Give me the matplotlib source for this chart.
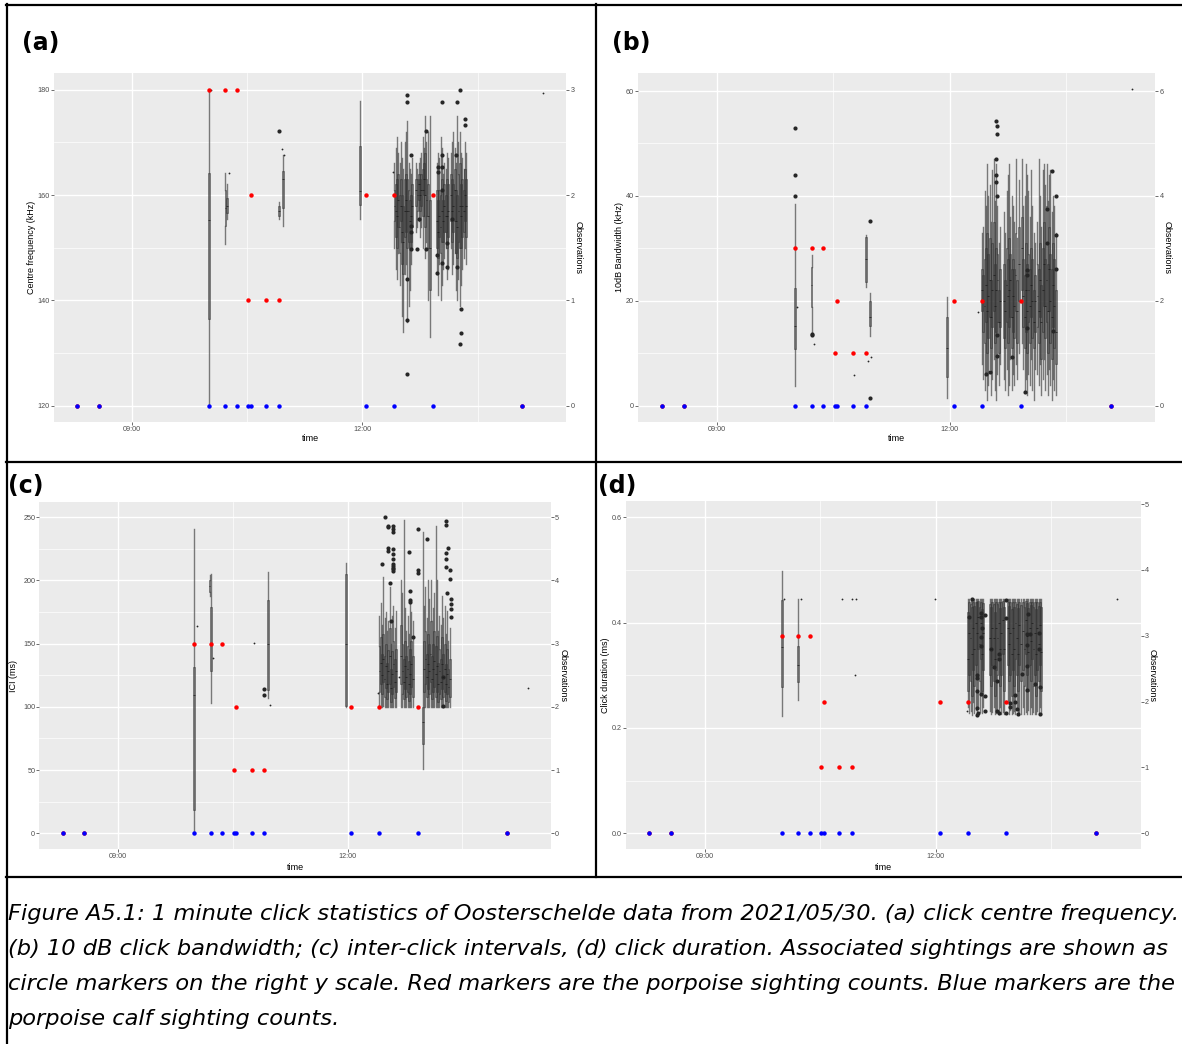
# Click statistics of Oosterschelde data, 2021/05/30 - four panel figure
import numpy as np
import matplotlib.pyplot as plt
from matplotlib.lines import Line2D

# ---------------- data ----------------
# sightings (same for every panel, drawn on the right y scale)
sight_t = ["08:17", "08:34", "10:00", "10:13", "10:22", "10:31", "10:33", "10:45", "10:55", "12:03", "12:25", "12:55", "14:05"]
porpoise_n = [0, 0, 3, 3, 3, 1, 2, 1, 1, 2, 2, 2, 0]
calf_n = [0, 0, 0, 0, 0, 0, 0, 0, 0, 0, 0, 0, 0]

# (a) centre frequency (kHz), one box per minute
a_t = ["10:00", "10:13", "10:14", "10:55", "10:58", "11:58",
       "12:25", "12:26", "12:27", "12:28", "12:29", "12:30", "12:31", "12:32", "12:33", "12:34", "12:35", "12:36", "12:37", "12:38", "12:39",
       "12:42", "12:43", "12:44", "12:45", "12:46", "12:47", "12:48", "12:49", "12:50", "12:51", "12:53",
       "12:58", "12:59", "13:00", "13:01", "13:02", "13:03", "13:04", "13:05", "13:06", "13:07",
       "13:09", "13:10", "13:11", "13:12", "13:13", "13:14", "13:15", "13:16", "13:17", "13:18", "13:19", "13:20", "13:21"]
a_lo = [120, 150.8, 155.5, 155.4, 154.2, 155.4,
        150, 146, 144, 149, 143, 151, 137, 134, 145, 147, 136, 139, 142, 147, 150,
        153, 154, 155, 152, 154, 150, 156, 148, 151, 140, 133,
        145, 141, 147, 140, 143, 146, 148, 150, 144, 146,
        150, 145, 147, 149, 142, 140, 144, 139, 143, 146, 148, 150, 147]
a_q1 = [136.4, 154.2, 156.5, 156, 157.5, 158.1,
        155, 152, 150, 154, 149, 155, 147, 145, 152, 153, 150, 151, 150, 151, 154,
        158, 157, 159, 157, 158, 156, 160, 154, 156, 150, 142,
        150, 148, 152, 149, 151, 151, 153, 153, 150, 152,
        155, 151, 153, 155, 149, 148, 151, 150, 150, 152, 153, 155, 152]
a_med = [155.2, 157.5, 158, 157, 163, 160.8,
         158, 157, 156, 159, 154, 158, 153, 151, 157, 159, 157, 157, 155, 156, 158,
         161, 160, 162, 160, 161, 161, 163, 160, 159, 156, 150,
         155, 153, 156, 154, 157, 155, 158, 156, 156, 157,
         160, 157, 158, 161, 155, 154, 157, 158, 156, 158, 157, 160, 158]
a_q3 = [164.2, 160.9, 159.5, 158, 164.5, 169.3,
        161, 162, 163, 164, 160, 163, 160, 158, 163, 164, 163, 161, 159, 160, 162,
        163, 163, 164, 163, 164, 165, 166, 168, 163, 162, 159,
        161, 159, 161, 160, 163, 159, 162, 160, 163, 162,
        164, 163, 162, 165, 161, 160, 164, 166, 162, 163, 161, 165, 163]
a_hi = [180, 164.2, 162, 158.7, 167.5, 177.8,
        166, 169, 171, 168, 166, 170, 167, 165, 170, 172, 174, 166, 165, 164, 167,
        166, 165, 166, 167, 168, 171, 169, 175, 170, 172, 175,
        166, 168, 167, 171, 169, 164, 166, 165, 168, 167,
        168, 170, 172, 169, 166, 175, 170, 172, 168, 167, 165, 170, 168]
a_out_t = ["10:55", "12:35", "12:35", "12:35", "12:35", "12:35", "12:38", "12:38", "12:38", "12:38",
           "12:43", "12:44", "12:50", "12:50", "12:58", "12:58", "12:59", "12:59",
           "13:02", "13:02", "13:02", "13:02", "13:02", "13:06", "13:06", "13:10", "13:13",
           "13:14", "13:14", "13:16", "13:16", "13:17", "13:17", "13:20", "13:20"]
a_out_v = [172.2, 178.9, 177.7, 144, 136.3, 126, 167.6, 154.2, 153, 149.7,
           149.7, 155.4, 172.2, 149.7, 148.6, 145.3, 165.3, 164.3,
           177.7, 167.6, 165.3, 160.9, 147.1, 150.9, 146.3, 155.4, 167.6,
           177.7, 146.3, 180, 131.7, 138.4, 133.9, 174.4, 173.3]
a_dot_t = ["10:02", "10:16", "10:57", "10:59", "12:24", "14:21"]
a_dot_v = [180, 164.2, 168.8, 167.5, 164.3, 179.3]

# (b) 10 dB bandwidth (kHz)
b_t = ["10:00", "10:13", "10:55", "10:58", "11:58",
       "12:25", "12:26", "12:27", "12:28", "12:29", "12:30", "12:31", "12:32", "12:33", "12:34", "12:35", "12:36", "12:37", "12:38", "12:39",
       "12:42", "12:43", "12:44", "12:45", "12:46", "12:47", "12:48", "12:49", "12:50", "12:51", "12:52",
       "12:54",
       "12:56", "12:57", "12:58", "12:59", "13:00", "13:01", "13:02", "13:03", "13:04", "13:05", "13:06",
       "13:08", "13:09", "13:10", "13:11", "13:12", "13:13", "13:14", "13:15", "13:16", "13:17", "13:18", "13:19", "13:20", "13:21", "13:22"]
b_lo = [3.8, 13.8, 22.7, 13.3, 1.4,
        8, 5, 3, 6, 1, 4, 7, 2, 5, 9, 3, 1, 6, 4, 8,
        5, 3, 7, 2, 4, 9, 3, 6, 4, 8, 5,
        10,
        12, 7, 3, 5, 2, 6, 4, 9, 3, 1, 7,
        6, 4, 8, 2, 5, 9, 3, 6, 2, 7, 4, 1, 5, 3, 2]
b_q1 = [10.9, 18.9, 23.6, 15.2, 5.5,
        18, 14, 12, 16, 10, 13, 17, 11, 15, 18, 12, 14, 16, 10, 15,
        13, 11, 16, 12, 15, 17, 11, 14, 13, 18, 12,
        20,
        22, 15, 11, 14, 10, 16, 12, 17, 13, 11, 14,
        15, 12, 17, 9, 14, 19, 13, 16, 10, 18, 12, 9, 15, 11, 8]
b_med = [15.2, 23, 28, 17, 11,
         22, 20, 19, 23, 18, 21, 24, 17, 22, 25, 19, 22, 24, 16, 20,
         20, 18, 23, 21, 22, 24, 17, 21, 19, 25, 18,
         27,
         30, 21, 17, 22, 18, 22, 19, 23, 20, 16, 20,
         21, 18, 24, 16, 22, 27, 19, 24, 18, 26, 20, 17, 23, 19, 14]
b_q3 = [22.4, 26.5, 32.2, 20, 16.9,
        26, 25, 28, 30, 33, 29, 32, 24, 31, 35, 27, 30, 29, 22, 26,
        27, 24, 30, 28, 32, 29, 26, 28, 26, 33, 24,
        34,
        36, 28, 25, 31, 27, 29, 26, 30, 28, 22, 25,
        27, 26, 31, 23, 30, 35, 28, 38, 27, 34, 29, 26, 31, 28, 22]
b_hi = [38.5, 28.7, 32.5, 21.5, 20.8,
        33, 34, 41, 38, 46, 40, 42, 35, 45, 47, 39, 46, 38, 31, 34,
        37, 33, 41, 44, 46, 36, 40, 38, 35, 47, 32,
        43,
        47, 38, 40, 46, 44, 41, 36, 45, 38, 33, 31,
        35, 47, 40, 34, 45, 46, 42, 46, 39, 44, 45, 37, 40, 38, 33]
b_out_t = ["10:00", "10:00", "10:00", "10:13", "10:13", "10:58", "10:58",
           "12:28", "12:31", "12:36", "12:36", "12:36", "12:36", "12:37", "12:37", "12:37", "12:37", "12:37",
           "12:48", "12:58", "13:00", "13:00", "13:00", "13:15", "13:15", "13:19", "13:20", "13:22", "13:22", "13:22"]
b_out_v = [52.9, 44, 40, 13.7, 13.4, 35.3, 1.5,
           6.0, 6.5, 54.3, 47.1, 43.9, 42.7, 53.4, 51.8, 39.9, 13.5, 9.5,
           9.2, 2.6, 25.9, 25, 14.9, 37.6, 31.1, 44.8, 14.3, 40, 32.6, 26]
b_dot_t = ["10:02", "10:15", "10:46", "10:57", "10:59", "12:22", "14:21"]
b_dot_v = [18.9, 11.7, 5.9, 8.6, 9.3, 17.8, 60.3]

# (c) inter-click interval (ms)
c_t = ["10:00", "10:12", "10:13", "10:58", "11:59",
       "12:25", "12:26", "12:27", "12:28", "12:29", "12:30", "12:31", "12:32", "12:33", "12:34", "12:35", "12:36", "12:37", "12:38",
       "12:42", "12:43", "12:44", "12:45", "12:46", "12:47", "12:48", "12:49", "12:50", "12:51",
       "12:59",
       "13:00", "13:01", "13:02", "13:03", "13:04", "13:05", "13:06", "13:07", "13:08", "13:09", "13:10",
       "13:11", "13:12", "13:13", "13:14", "13:15", "13:16", "13:17", "13:18", "13:19", "13:20"]
c_lo = [1, 188, 103, 106.7, 100,
        100, 100, 100, 101, 100, 100, 100, 100, 100, 100, 100, 100, 100, 100,
        100, 100, 100, 100, 100, 100, 100, 100, 100, 100,
        51,
        100, 100, 100, 100, 100, 100, 100, 100, 100, 100, 100,
        100, 100, 100, 100, 100, 100, 100, 100, 100, 100]
c_q1 = [18.5, 191, 128.4, 113.4, 101,
        112, 118, 110, 120, 108, 115, 106, 112, 118, 104, 110, 116, 107, 112,
        118, 110, 106, 114, 108, 112, 105, 110, 116, 108,
        71,
        112, 118, 108, 114, 110, 120, 106, 112, 116, 108, 112,
        104, 110, 106, 114, 108, 112, 105, 110, 104, 108]
c_med = [109, 196, 150, 150, 150,
         128, 135, 125, 138, 122, 132, 118, 128, 140, 115, 126, 134, 120, 128,
         140, 128, 120, 132, 124, 130, 118, 126, 134, 122,
         88,
         130, 138, 124, 134, 128, 142, 122, 130, 136, 126, 132,
         118, 128, 120, 134, 124, 130, 118, 126, 116, 122]
c_q3 = [131.8, 200, 179, 184.8, 205,
        148, 155, 142, 158, 140, 150, 135, 145, 162, 130, 144, 152, 138, 146,
        165, 150, 138, 152, 140, 148, 136, 146, 152, 140,
        100,
        152, 160, 142, 158, 150, 168, 140, 150, 160, 148, 156,
        135, 146, 138, 155, 142, 150, 134, 146, 130, 138]
c_hi = [240.6, 204, 205, 206.7, 213.6,
        172, 182, 165, 203, 170, 175, 160, 168, 195, 150, 172, 180, 162, 176,
        200, 190, 248, 178, 160, 172, 158, 185, 175, 168,
        238,
        180, 195, 170, 200, 185, 200, 168, 178, 190, 243, 200,
        160, 172, 165, 188, 170, 180, 158, 176, 152, 162]
c_out_t = ["10:55", "10:55", "12:27", "12:29", "12:32", "12:32", "12:32", "12:32", "12:33", "12:34",
           "12:36", "12:36", "12:36", "12:36", "12:36", "12:36", "12:36", "12:36", "12:36", "12:36", "12:36",
           "12:48", "12:49", "12:49", "12:49", "12:51", "12:55", "12:55", "12:55", "13:02", "13:15", "13:15",
           "13:17", "13:17", "13:17", "13:17", "13:17", "13:18", "13:19", "13:20", "13:20",
           "13:21", "13:21", "13:21", "13:21"]
c_out_v = [114, 109.5, 213, 250, 243.2, 242, 225.3, 223.5, 197.7, 167.9,
           243.2, 241, 238, 224.5, 220.6, 217, 212.8, 211.8, 208.8, 207.7, 209.7,
           222.7, 191.9, 184.3, 183.3, 155.5, 241, 208, 206, 233.1, 124, 101,
           247, 244, 222, 217, 211, 189.8, 226, 208, 200.9,
           185.1, 181, 177.6, 170.7]
c_dot_t = ["10:02", "10:15", "10:47", "10:59", "12:24", "12:40", "14:21"]
c_dot_v = [164, 139, 150.9, 101.5, 110.7, 123.4, 114.7]

# (d) click duration (ms)
d_t = ["10:00", "10:13",
       "12:25", "12:26", "12:27", "12:28", "12:29", "12:30", "12:31", "12:32", "12:33", "12:34", "12:35", "12:36", "12:37",
       "12:42", "12:43", "12:44", "12:45", "12:46", "12:47", "12:48", "12:49", "12:50", "12:51", "12:52", "12:53",
       "12:56", "12:57", "12:58", "12:59", "13:00", "13:01", "13:02", "13:03", "13:04", "13:05", "13:06",
       "13:08", "13:09", "13:10", "13:11", "13:12", "13:13", "13:14", "13:15", "13:16", "13:17", "13:18", "13:19", "13:20", "13:21", "13:22"]
d_lo = [0.222, 0.253,
        0.240, 0.228, 0.232, 0.225, 0.250, 0.228, 0.235, 0.226, 0.240, 0.230, 0.262, 0.228, 0.240,
        0.232, 0.226, 0.230, 0.240, 0.226, 0.228, 0.235, 0.226, 0.240, 0.226, 0.230, 0.226,
        0.250, 0.226, 0.235, 0.226, 0.228, 0.232, 0.226, 0.240, 0.226, 0.230, 0.226,
        0.240, 0.226, 0.230, 0.226, 0.235, 0.226, 0.240, 0.226, 0.230, 0.226, 0.226, 0.232, 0.226, 0.240, 0.226]
d_q1 = [0.278, 0.288,
        0.270, 0.300, 0.290, 0.260, 0.310, 0.280, 0.320, 0.300, 0.350, 0.290, 0.330, 0.270, 0.310,
        0.300, 0.280, 0.320, 0.290, 0.260, 0.310, 0.300, 0.330, 0.280, 0.300, 0.340, 0.270,
        0.320, 0.290, 0.300, 0.260, 0.310, 0.280, 0.330, 0.300, 0.270, 0.320, 0.290,
        0.310, 0.280, 0.340, 0.300, 0.270, 0.320, 0.290, 0.330, 0.280, 0.300, 0.260, 0.310, 0.290, 0.320, 0.270]
d_med = [0.354, 0.320,
         0.330, 0.380, 0.370, 0.340, 0.390, 0.350, 0.400, 0.380, 0.410, 0.360, 0.400, 0.340, 0.380,
         0.370, 0.350, 0.390, 0.370, 0.330, 0.390, 0.370, 0.400, 0.350, 0.380, 0.405, 0.350,
         0.390, 0.360, 0.380, 0.340, 0.390, 0.350, 0.400, 0.370, 0.340, 0.395, 0.360,
         0.385, 0.350, 0.405, 0.375, 0.345, 0.390, 0.365, 0.400, 0.350, 0.380, 0.340, 0.390, 0.360, 0.395, 0.345]
d_q3 = [0.443, 0.356,
        0.420, 0.440, 0.436, 0.430, 0.440, 0.432, 0.440, 0.440, 0.442, 0.430, 0.440, 0.425, 0.438,
        0.436, 0.430, 0.440, 0.435, 0.420, 0.440, 0.436, 0.440, 0.428, 0.440, 0.442, 0.430,
        0.440, 0.432, 0.440, 0.425, 0.440, 0.430, 0.440, 0.436, 0.428, 0.440, 0.434,
        0.440, 0.430, 0.442, 0.438, 0.428, 0.440, 0.434, 0.440, 0.430, 0.440, 0.425, 0.440, 0.432, 0.440, 0.430]
d_hi = [0.498, 0.444,
        0.444, 0.444, 0.444, 0.444, 0.444, 0.444, 0.444, 0.444, 0.444, 0.444, 0.444, 0.444, 0.444,
        0.444, 0.444, 0.444, 0.444, 0.444, 0.444, 0.444, 0.444, 0.444, 0.444, 0.444, 0.444,
        0.444, 0.444, 0.444, 0.444, 0.444, 0.444, 0.444, 0.444, 0.444, 0.444, 0.444,
        0.444, 0.444, 0.444, 0.444, 0.444, 0.444, 0.444, 0.444, 0.444, 0.444, 0.444, 0.444, 0.444, 0.444, 0.444]
d_out_t = ["12:26", "12:28", "12:32", "12:32", "12:32", "12:32", "12:32", "12:33",
           "12:35", "12:35", "12:35", "12:35", "12:35", "12:36", "12:38", "12:38", "12:38",
           "12:43", "12:45", "12:48", "12:48", "12:49", "12:49", "12:49", "12:55", "12:55", "12:55",
           "12:58", "12:58", "13:02", "13:02", "13:03", "13:04", "13:07",
           "13:11", "13:11", "13:11", "13:11", "13:12", "13:13", "13:17", "13:20", "13:20", "13:21", "13:21"]
d_out_v = [0.411, 0.444, 0.300, 0.295, 0.270, 0.238, 0.225, 0.228,
           0.418, 0.410, 0.372, 0.356, 0.265, 0.390, 0.415, 0.260, 0.233,
           0.350, 0.316, 0.290, 0.233, 0.340, 0.330, 0.228, 0.443, 0.408, 0.228,
           0.240, 0.247, 0.263, 0.250, 0.236, 0.226, 0.302,
           0.378, 0.357, 0.318, 0.272, 0.416, 0.378, 0.284, 0.381, 0.350, 0.277, 0.227]
d_dot_t = ["10:02", "10:15", "10:47", "10:55", "10:57", "10:58", "11:59", "12:24", "14:21"]
d_dot_v = [0.444, 0.444, 0.444, 0.444, 0.300, 0.444, 0.444, 0.233, 0.444]

caption = ["Figure A5.1: 1 minute click statistics of Oosterschelde data from 2021/05/30. (a) click centre frequency.",
           "(b) 10 dB click bandwidth; (c) inter-click intervals, (d) click duration. Associated sightings are shown as",
           "circle markers on the right y scale. Red markers are the porpoise sighting counts. Blue markers are the",
           "porpoise calf sighting counts."]


def hrs(s):
    h, m = s.split(":")
    return int(h) + int(m) / 60.0


# ---------------- layout ----------------
W, H = 1182, 1044
plt.rcParams['font.family'] = 'DejaVu Sans'
fig = plt.figure(figsize=(W / 100, H / 100), dpi=100)


def frac_rect(l, t, r, b):
    return [l / W, 1 - b / H, (r - l) / W, (b - t) / H]


panels = [
    dict(tag="(a)", tag_xy=(22, 43), rect=(53.6, 72.7, 566.4, 421.7), ylim=(117, 183.2),
         yticks=[120, 140, 160, 180], yminor=[130, 150, 170], fmt="{:.0f}", scale=20, off=120, rticks=[0, 1, 2, 3],
         ylabel="Centre frequency (kHz)", ylab_x=31, xlab_y=439, rlab_x=578,
         data=(a_t, a_lo, a_q1, a_med, a_q3, a_hi, a_out_t, a_out_v, a_dot_t, a_dot_v)),
    dict(tag="(b)", tag_xy=(612, 43), rect=(638.2, 72.7, 1155.4, 421.7), ylim=(-3.05, 63.5),
         yticks=[0, 20, 40, 60], yminor=[10, 30, 50], fmt="{:.0f}", scale=10, off=0, rticks=[0, 2, 4, 6],
         ylabel="10dB Bandwidth (kHz)", ylab_x=620, xlab_y=439, rlab_x=1167,
         data=(b_t, b_lo, b_q1, b_med, b_q3, b_hi, b_out_t, b_out_v, b_dot_t, b_dot_v)),
    dict(tag="(c)", tag_xy=(8, 486), rect=(39.4, 501.7, 551, 849.3), ylim=(-12.7, 262.3),
         yticks=[0, 50, 100, 150, 200, 250], yminor=[25, 75, 125, 175, 225], fmt="{:.0f}", scale=50, off=0,
         rticks=[0, 1, 2, 3, 4, 5], ylabel="ICI (ms)", ylab_x=13, xlab_y=867, rlab_x=563,
         data=(c_t, c_lo, c_q1, c_med, c_q3, c_hi, c_out_t, c_out_v, c_dot_t, c_dot_v)),
    dict(tag="(d)", tag_xy=(598, 486), rect=(625.9, 501, 1140.5, 849.3), ylim=(-0.0305, 0.631),
         yticks=[0.0, 0.2, 0.4, 0.6], yminor=[0.1, 0.3, 0.5], fmt="{:.1f}", scale=0.125, off=0,
         rticks=[0, 1, 2, 3, 4, 5], ylabel="Click duration (ms)", ylab_x=605, xlab_y=867, rlab_x=1152,
         data=(d_t, d_lo, d_q1, d_med, d_q3, d_hi, d_out_t, d_out_v, d_dot_t, d_dot_v)),
]

xlim = (7.98, 14.655)
axis_font = 'Liberation Sans'
tick_kw = dict(labelsize=5.2, labelcolor='#4D4D4D', color='#333333', length=2, width=0.5, pad=1)

for p in panels:
    l, t, r, b = p["rect"]
    ax = fig.add_axes(frac_rect(l, t, r, b))
    ax.set_facecolor('#EBEBEB')
    for s in ax.spines.values():
        s.set_visible(False)
    ax.set_xlim(*xlim)
    ax.set_ylim(*p["ylim"])
    ax.set_xticks([9, 12])
    ax.set_xticklabels(["09:00", "12:00"], fontfamily=axis_font)
    ax.set_xticks([10.5, 13.5], minor=True)
    ax.set_yticks(p["yticks"])
    ax.set_yticklabels([p["fmt"].format(v) for v in p["yticks"]], fontfamily=axis_font)
    ax.set_yticks(p["yminor"], minor=True)
    ax.tick_params(which='major', **tick_kw)
    ax.tick_params(which='minor', length=0)
    ax.set_axisbelow(True)
    ax.grid(which='major', color='white', linewidth=1.0)
    ax.grid(which='minor', color='white', linewidth=0.5)

    bt, blo, bq1, bmed, bq3, bhi, ot, ov, dt, dv = p["data"]
    stats = [dict(whislo=w0, q1=q1, med=m, q3=q3, whishi=w1, fliers=[])
             for w0, q1, m, q3, w1 in zip(blo, bq1, bmed, bq3, bhi)]
    ax.bxp(stats, positions=[hrs(s) for s in bt], widths=0.024, patch_artist=True,
           showcaps=False, manage_ticks=False,
           boxprops=dict(facecolor='#333333', edgecolor='#333333', alpha=0.7, linewidth=0.4),
           whiskerprops=dict(color='#3a3a3a', alpha=0.65, linewidth=1.0),
           medianprops=dict(color='#1a1a1a', linewidth=0.5))
    ax.plot([hrs(s) for s in ot], ov, 'o', color='#262626', ms=3, mew=0)
    ax.plot([hrs(s) for s in dt], dv, 'o', color='#262626', ms=1.3, mew=0)

    ax.set_xlabel("time", fontfamily=axis_font, fontsize=6.5, va='center')
    ax.xaxis.set_label_coords(0.5, (b - p["xlab_y"]) / (b - t))
    ax.set_ylabel(p["ylabel"], fontfamily=axis_font, fontsize=6.5, va='center')
    ax.yaxis.set_label_coords((p["ylab_x"] - l) / (r - l), 0.5)

    # sightings on the right y scale
    ax2 = ax.twinx()
    y0, y1 = p["ylim"]
    ax2.set_ylim((y0 - p["off"]) / p["scale"], (y1 - p["off"]) / p["scale"])
    for s in ax2.spines.values():
        s.set_visible(False)
    ax2.set_yticks(p["rticks"])
    ax2.set_yticklabels([str(v) for v in p["rticks"]], fontfamily=axis_font)
    ax2.tick_params(**tick_kw)
    ax2.plot([hrs(s) for s in sight_t], porpoise_n, 'o', color='#FF0000', ms=3.2, mew=0)
    ax2.plot([hrs(s) for s in sight_t], calf_n, 'o', color='#0000FF', ms=3.2, mew=0)
    ax2.set_ylabel("Observations", fontfamily=axis_font, fontsize=6.5, rotation=270, va='center')
    ax2.yaxis.set_label_coords((p["rlab_x"] - l) / (r - l), 0.5)

    fig.text(p["tag_xy"][0] / W, 1 - p["tag_xy"][1] / H, p["tag"], fontsize=17,
             fontweight='bold', ha='left', va='center')

# table borders of the document
def hline(y, x0, x1):
    fig.add_artist(Line2D([x0 / W, x1 / W], [1 - y / H, 1 - y / H], color='black', lw=1.6))


def vline(x, y0, y1):
    fig.add_artist(Line2D([x / W, x / W], [1 - y0 / H, 1 - y1 / H], color='black', lw=1.6))


hline(5, 6, W)
hline(462, 6, W)
hline(877, 6, W)
vline(7, 4, H)
vline(596, 4, 877)

# caption
for i, line in enumerate(caption):
    fig.text(8 / W, 1 - (914 + 35 * i) / H, line, fontsize=16.2, style='italic',
             ha='left', va='center')

fig.savefig('out.png', dpi=100)
